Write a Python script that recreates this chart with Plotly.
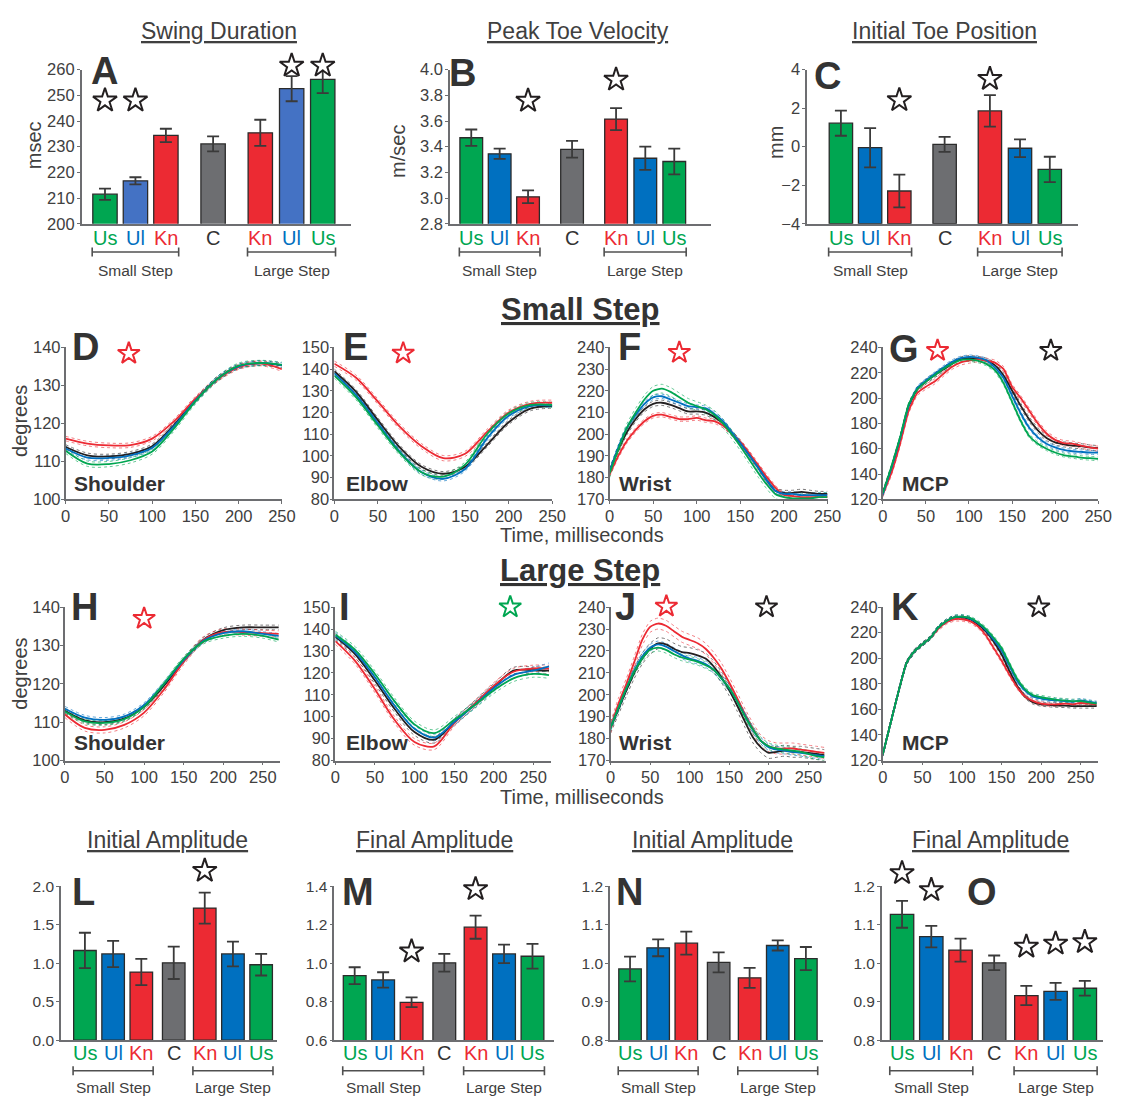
import plotly.graph_objects as go

W, H = 1122, 1105
FONT = "Liberation Sans, Arial, Helvetica, sans-serif"
TXT = "#404040"
AX = "#6D6E71"
GREEN, BLUE, BLUE_A, RED, GRAY, BLACK = "#00A651", "#0070C0", "#4472C4", "#EC2A33", "#6D6E71", "#231F20"

# ---------------- bar-chart data (order: Us, Ul, Kn | C | Kn, Ul, Us) ----------------
conditions = ["Us", "Ul", "Kn", "C", "Kn", "Ul", "Us"]
cond_text_colors = [GREEN, BLUE, RED, "#333333", RED, BLUE, GREEN]
step_groups = ["Small Step", "Large Step"]

swing_duration = [211.5, 216.7, 234.4, 231.1, 235.4, 252.6, 256.2]
swing_duration_se = [2.2, 1.4, 2.6, 2.9, 5.1, 4.9, 5.3]
peak_toe_velocity = [3.47, 3.345, 3.01, 3.38, 3.615, 3.31, 3.285]
peak_toe_velocity_se = [0.064, 0.04, 0.05, 0.065, 0.085, 0.09, 0.10]
initial_toe_position = [1.22, -0.05, -2.3, 0.12, 1.86, -0.08, -1.18]
initial_toe_position_se = [0.65, 1.02, 0.85, 0.39, 0.82, 0.46, 0.66]
initial_amp_L = [1.165, 1.12, 0.885, 1.005, 1.715, 1.12, 0.98]
initial_amp_L_se = [0.23, 0.17, 0.17, 0.21, 0.20, 0.16, 0.14]
final_amp_M = [0.935, 0.913, 0.797, 1.002, 1.187, 1.048, 1.036]
final_amp_M_se = [0.044, 0.04, 0.025, 0.046, 0.06, 0.048, 0.064]
initial_amp_N = [0.985, 1.04, 1.052, 1.002, 0.962, 1.046, 1.012]
initial_amp_N_se = [0.032, 0.022, 0.03, 0.026, 0.026, 0.013, 0.03]
final_amp_O = [1.127, 1.069, 1.034, 1.001, 0.916, 0.927, 0.935]
final_amp_O_se = [0.035, 0.028, 0.03, 0.019, 0.025, 0.022, 0.019]

# ---------------- joint-angle traces (degrees), mean per condition ----------------
t25_small = [0, 25, 50, 75, 100, 125, 150, 175, 200, 225, 250]
t25_large = [0, 25, 50, 75, 100, 125, 150, 175, 200, 225, 250, 270]
t10_small = list(range(0, 251, 10))
t10_large = list(range(0, 271, 10))

# small step
shoulder_s = {
    "C":  [113.8, 111.6, 111.3, 112.0, 114.0, 119.5, 126.0, 131.7, 135.0, 135.8, 135.3],
    "Kn": [116.0, 114.7, 114.2, 114.3, 116.0, 120.5, 126.5, 131.5, 134.8, 135.8, 134.3],
    "Ul": [113.4, 111.0, 110.9, 111.6, 113.6, 119.2, 126.0, 131.7, 135.0, 135.9, 135.3],
    "Us": [112.8, 109.4, 109.3, 110.3, 112.6, 118.6, 125.8, 131.6, 135.2, 135.9, 135.4],
}
elbow_s = {
    "C":  [139.0, 129.5, 116.5, 104.0, 95.0, 91.8, 95.0, 105.0, 115.5, 121.8, 123.0],
    "Kn": [142.5, 136.0, 125.0, 113.5, 104.5, 99.0, 101.0, 111.0, 120.0, 124.0, 124.5],
    "Ul": [138.0, 128.0, 115.0, 102.0, 92.5, 89.5, 94.0, 108.0, 118.5, 123.0, 123.2],
    "Us": [137.0, 127.0, 114.0, 101.5, 92.5, 90.5, 96.0, 110.0, 119.5, 123.5, 123.5],
}
wrist_s = {
    "C":  [183, 193, 201, 207, 211.5, 214, 214.5, 213.5, 212, 210.5, 210.5, 210, 208, 205, 200.5, 196,
           190.5, 185, 179, 174, 173, 173, 173.5, 173, 172.5, 172.5],
    "Kn": [181.5, 190, 197, 202, 206, 208.5, 209, 208, 207, 207, 207.5, 206.5, 206, 204, 200.5, 196.5,
           191.5, 186, 180.5, 175.5, 172, 171.5, 171, 171, 171, 171],
    "Ul": [183, 194, 203, 209, 214, 217, 217.5, 216, 214.5, 213, 212.5, 212, 209.5, 206, 201, 196,
           190.5, 185, 179, 174, 172.5, 172.5, 172, 172, 172, 172],
    "Us": [182, 193, 203, 210, 216, 220, 221, 219.5, 217, 214.5, 213, 211.5, 209, 205, 200, 194.5,
           188.5, 182.5, 177, 172.5, 171, 170.5, 170.5, 170.5, 171, 171],
}
mcp_s = {
    "C":  [125, 145, 168, 194, 207, 213, 218, 222.5, 227, 230.5, 231.5, 231, 229.5, 226, 218, 206,
           194, 183, 174.5, 168.5, 165, 163.5, 162.5, 162, 161, 160.5],
    "Kn": [124, 141, 164, 190, 204, 209, 213, 219, 224.5, 228, 229.5, 230.5, 229.5, 228, 223, 209,
           200, 190, 180, 172, 167, 164.5, 164, 162.5, 161, 160],
    "Ul": [124, 145, 168, 194, 208, 214, 219, 224, 228.5, 231.5, 232.5, 232, 230, 224, 216, 202,
           188, 176.5, 169, 164, 161, 159, 158, 157.5, 157, 157],
    "Us": [125, 146, 169, 195, 207, 213, 218, 223, 227, 230, 230.5, 229.5, 227, 222, 212, 197,
           182, 170, 164, 160, 157, 155, 154, 153, 152.5, 152],
}
# large step
shoulder_l = {
    "C":  [113.0, 110.5, 110.0, 111.0, 114.0, 119.5, 126.0, 131.5, 134.0, 134.7, 134.7, 134.7],
    "Kn": [112.0, 108.5, 108.0, 109.3, 112.5, 118.5, 125.8, 131.5, 133.5, 133.5, 133.2, 133.0],
    "Ul": [113.5, 111.2, 110.6, 111.5, 114.5, 120.0, 126.2, 131.2, 133.2, 133.7, 133.0, 132.5],
    "Us": [112.8, 110.2, 109.8, 110.8, 114.0, 120.0, 126.5, 131.0, 132.5, 133.0, 132.5, 131.5],
}
elbow_l = {
    "C":  [136.5, 128.5, 116.5, 103.5, 93.0, 89.5, 97.5, 105.5, 113.5, 121.0, 121.2, 121.0],
    "Kn": [134.5, 125.5, 112.5, 98.5, 88.5, 86.5, 97.0, 105.5, 114.0, 120.5, 122.0, 122.0],
    "Ul": [137.0, 129.5, 118.0, 105.0, 94.5, 90.5, 97.5, 105.0, 113.0, 119.0, 121.0, 123.0],
    "Us": [137.5, 130.5, 119.5, 107.0, 96.5, 92.5, 98.5, 105.0, 112.0, 117.5, 119.5, 119.0],
}
wrist_l = {
    "C":  [185, 193.5, 202, 210, 216.5, 221, 223.5, 223, 221, 219.5, 219, 218, 216.5, 213, 208, 202,
           195, 187.5, 180.5, 176, 173.5, 174, 174.5, 174, 174, 173.5, 173, 172.5],
    "Kn": [185, 196, 205, 215, 225, 231, 232.5, 231.5, 229, 226.5, 225, 223.5, 221, 217, 212, 205.5,
           198.5, 191, 184.5, 179, 176.5, 175.5, 175.5, 175.5, 175, 174.5, 174, 173.5],
    "Ul": [185, 194, 203, 211, 217.5, 221.5, 223, 222, 220, 218, 216.5, 215.5, 214, 211.5, 207.5, 203,
           197, 190.5, 184, 179, 176, 175, 174.5, 174, 173.5, 173, 172.5, 172],
    "Us": [185, 194, 203, 210.5, 216.5, 220.5, 221.5, 220.5, 218.5, 217, 216, 215, 213.5, 211.5, 207.5, 203,
           197, 190, 184, 179, 176.5, 175.5, 175, 174.5, 174, 173, 172, 171.5],
}
mcp_l = {
    "C":  [125, 150, 174.5, 196.5, 205.5, 211, 216, 224, 229, 232, 232, 230.5, 226.5, 221, 213, 203,
           190, 178, 170, 165.5, 164, 163.5, 163, 163, 162.5, 162.5, 162.5, 162.5],
    "Kn": [125, 150, 174.5, 196.5, 205.5, 211, 216, 223, 228, 230.5, 230.5, 229, 225, 218, 208, 198,
           187, 177, 170, 166.5, 164.5, 164, 164, 164.5, 164, 165, 164.5, 164],
    "Ul": [125, 150, 174.5, 196.5, 205.5, 211, 216, 224, 229, 232, 232.5, 231, 227.5, 222, 214.5, 206,
           194, 182, 174.5, 170, 168.5, 167.5, 167, 166.5, 166, 167, 166, 165],
    "Us": [125, 150, 174.5, 196.5, 205.5, 211, 216, 224, 229, 232, 232.5, 231.5, 228, 223, 216, 208,
           195.5, 183.5, 175.5, 171, 169.5, 168.5, 167.5, 167, 166.5, 166.5, 165.5, 164.5],
}
# standard error of each condition's mean trace (degrees)
se_shoulder_s = {"C": 0.6, "Kn": 0.6, "Ul": 0.6, "Us": 0.7}
se_elbow_s = {"C": 1.0, "Kn": 1.2, "Ul": 1.0, "Us": 1.2}
se_wrist_s = {"C": 1.2, "Kn": 1.0, "Ul": 1.0, "Us": 2.0}
se_mcp_s = {"C": 2.0, "Kn": 2.0, "Ul": 1.5, "Us": 1.5}
se_shoulder_l = {"C": 0.6, "Kn": 0.8, "Ul": 0.6, "Us": 0.6}
se_elbow_l = {"C": 1.5, "Kn": 1.5, "Ul": 1.5, "Us": 1.5}
se_wrist_l = {"C": 2.5, "Kn": 2.5, "Ul": 1.5, "Us": 1.5}
se_mcp_l = {"C": 1.5, "Kn": 1.5, "Ul": 1.5, "Us": 1.5}

# ---------------- figure scaffolding ----------------
fig = go.Figure()
# transparent plot areas so the hidden star layers never cover the panels beneath them
layout = dict(width=W, height=H, margin=dict(l=0, r=0, t=0, b=0), paper_bgcolor="white",
              plot_bgcolor="rgba(0,0,0,0)", showlegend=False, font=dict(family=FONT, color=TXT))
annotations, shapes = [], []
n_axes = [0]


def add_axes(x0, x1, ytop, ybot, xr, yr, xstyle, ystyle):
    n_axes[0] += 1
    s = "" if n_axes[0] == 1 else str(n_axes[0])
    layout["xaxis" + s] = dict(domain=[x0 / W, x1 / W], range=xr, anchor="y" + s, **xstyle)
    layout["yaxis" + s] = dict(domain=[1 - ybot / H, 1 - ytop / H], range=yr, anchor="x" + s, **ystyle)
    return "x" + s, "y" + s


def add_star_axes(x0, x1, ytop, ybot, xr, yr, extra=45):
    """Hidden axes with the same data scale as a panel, extended upward so that
    significance stars sitting above the panel's top tick stay inside the range."""
    per_px = (yr[1] - yr[0]) / (ybot - ytop)
    hidden = dict(visible=False, showgrid=False, zeroline=False, fixedrange=True)
    return add_axes(x0, x1, ytop - extra, ybot, xr, [yr[0], yr[1] + extra * per_px], hidden, hidden)


def text(x, y, s, size, color=TXT, bold=False, xref="paper", xanchor="center", angle=0):
    annotations.append(dict(
        x=x / W if xref == "paper" else x, y=1 - y / H, xref=xref, yref="paper",
        text=f"<b>{s}</b>" if bold else s, showarrow=False, textangle=angle,
        font=dict(size=size, color=color, family=FONT), xanchor=xanchor, yanchor="middle"))


def axis_style(tick_size, **kw):
    st = dict(showline=True, linecolor=AX, linewidth=1.6, showgrid=False, zeroline=False,
              ticks="outside", ticklen=3, tickwidth=1.4, tickcolor=AX,
              tickfont=dict(size=tick_size, color=TXT, family=FONT), fixedrange=True)
    st.update(kw)
    return st


def stars_trace(axes, xs, ys, colors, size):
    xa, ya = axes
    fig.add_trace(go.Scatter(x=xs, y=ys, xaxis=xa, yaxis=ya, mode="markers", hoverinfo="skip",
                             marker=dict(symbol="star-open", size=size, color=colors,
                                         line=dict(width=2, color=colors))))


pos_top = [0, 1, 2, 3.55, 5.1, 6.13, 7.15]
pos_bot = [0, 1, 2, 3.15, 4.25, 5.25, 6.25]


def bar_panel(vals, errs, pos, blue, frame, first_px, unit_px, yr, yticks, yfmt, tick_size,
              label_y, bracket_y, group_y, stars, base=None):
    x0, x1, ytop, ybot = frame
    xr = [(x0 - first_px) / unit_px, (x1 - first_px) / unit_px]
    xa, ya = add_axes(x0, x1, ytop, ybot, xr, yr,
                      axis_style(tick_size, ticks="", showticklabels=False),
                      axis_style(tick_size, tickvals=yticks, tickformat=yfmt, ticklabelstandoff=-1))
    colors = [GREEN, blue, RED, GRAY, RED, blue, GREEN]
    bar = dict(x=pos, width=0.8, xaxis=xa, yaxis=ya, hoverinfo="skip",
               marker=dict(color=colors, line=dict(color="#2B2B2B", width=1.3)),
               error_y=dict(type="data", array=errs, visible=True, color="#3A3A3A",
                            thickness=1.8, width=6))
    if base is None:
        bar["y"] = vals
    else:
        bar["y"] = [v - base for v in vals]
        bar["base"] = base
    fig.add_trace(go.Bar(**bar))
    if stars:
        sa = add_star_axes(x0, x1, ytop, ybot, xr, yr)
        stars_trace(sa, [pos[i] for i, _ in stars], [v for _, v in stars], BLACK, 18)
    for p, lab, c in zip(pos, conditions, cond_text_colors):
        text(p, label_y, lab, 20, color=c, xref=xa)
    # group brackets beneath the condition labels
    for (a, b), name in zip([(0, 2), (4, 6)], step_groups):
        xl, xr_ = pos[a] - 0.42, pos[b] + 0.42
        yb = 1 - bracket_y / H
        cap = 4.5 / H
        shapes.append(dict(type="line", xref=xa, yref="paper", x0=xl, x1=xr_, y0=yb, y1=yb,
                           line=dict(color="#505050", width=1.6)))
        for xe in (xl, xr_):
            shapes.append(dict(type="line", xref=xa, yref="paper", x0=xe, x1=xe, y0=yb - cap,
                               y1=yb + cap, line=dict(color="#505050", width=1.6)))
        text((xl + xr_) / 2, group_y, name, 15.5, xref=xa)
    return xa, ya


ORDER = [("C", BLACK), ("Kn", RED), ("Ul", BLUE), ("Us", GREEN)]


def line_panel(t, curves, ses, frame, xr, yr, yticks, stars, smooth):
    x0, x1, ytop, ybot = frame
    xa, ya = add_axes(x0, x1, ytop, ybot, xr, yr,
                      axis_style(16.5, tickvals=[0, 50, 100, 150, 200, 250], ticklabelstandoff=-2),
                      axis_style(16.5, tickvals=yticks, ticklabelstandoff=-3))
    for key, col in ORDER:
        for sign in (1, -1):
            fig.add_trace(go.Scatter(
                x=t, y=[v + sign * ses[key] for v in curves[key]], xaxis=xa, yaxis=ya,
                mode="lines", hoverinfo="skip", opacity=0.6,
                line=dict(color=col, width=1, dash="dot", shape="spline", smoothing=smooth)))
    for key, col in ORDER:
        fig.add_trace(go.Scatter(
            x=t, y=curves[key], xaxis=xa, yaxis=ya, mode="lines", hoverinfo="skip",
            line=dict(color=col, width=1.8, shape="spline", smoothing=smooth)))
    sa = add_star_axes(x0, x1, ytop, ybot, xr, yr)
    stars_trace(sa, [s[0] for s in stars], [s[1] for s in stars], [s[2] for s in stars], 16.5)
    return xa, ya


# ---------------- top row: A, B, C ----------------
TOP = (61.7, 218.3)
bar_panel(swing_duration, swing_duration_se, pos_top, BLUE_A, (78, 352, *TOP), 101.7, 30.98,
          [200, 260], list(range(200, 261, 10)), "d", 16.5, 233, 247, 266,
          [(0, 248), (1, 248), (5, 261.6), (6, 261.6)])
bar_panel(peak_toe_velocity, peak_toe_velocity_se, pos_top, BLUE, (452.7, 718, *TOP), 474.3, 28.88,
          [2.8, 4.0], [2.8, 3.0, 3.2, 3.4, 3.6, 3.8, 4.0], ".1f", 16.5, 233, 247, 266,
          [(2, 3.758), (4, 3.923)])
bar_panel(initial_toe_position, initial_toe_position_se, pos_top, BLUE, (816, 1091.7, *TOP), 850.3, 29.72,
          [-4, 4], [-4, -2, 0, 2, 4], "d", 16.5, 233, 247, 266,
          [(2, 2.42), (4, 3.52)], base=-4)

for x, title in [(217.5, "Swing Duration"), (583, "Peak Toe Velocity"), (955.7, "Initial Toe Position")]:
    text(x, 22, f"<u>{title}</u>", 23)
for x, y, letter in [(101.7, 63, "A"), (465.7, 65, "B"), (837, 68, "C")]:
    text(x, y, letter, 38, color="#333333", bold=True)
text(29, 139, "msec", 20, angle=-90)
text(399, 145, "m/sec", 20, angle=-90)
text(784.5, 136, "mm", 20, angle=-90)

# ---------------- small step joint angles: D-G ----------------
SROW = (344, 498.5)
line_panel(t25_small, shoulder_s, se_shoulder_s, (61.7, 281.7, *SROW), [0, 250], [100, 140],
           [100, 110, 120, 130, 140], [(73, 138.4, RED)], 0.9)
line_panel(t25_small, elbow_s, se_elbow_s, (335, 556.7, *SROW), [0, 250], [80, 150],
           list(range(80, 151, 10)), [(79, 147.3, RED)], 0.9)
line_panel(t10_small, wrist_s, se_wrist_s, (615, 836.7, *SROW), [0, 250], [170, 240],
           list(range(170, 241, 10)), [(80, 237.6, RED)], 0.6)
line_panel(t10_small, mcp_s, se_mcp_s, (893, 1112, *SROW), [0, 250], [120, 240],
           list(range(120, 241, 20)), [(63.5, 237.4, RED), (195, 237.4, BLACK)], 0.5)

# ---------------- large step joint angles: H-K ----------------
LROW = (608, 764)
line_panel(t25_large, shoulder_l, se_shoulder_l, (61, 280, *LROW), [0, 272], [100, 140],
           [100, 110, 120, 130, 140], [(100, 137, RED)], 0.9)
line_panel(t25_large, elbow_l, se_elbow_l, (336, 555, *LROW), [0, 272], [80, 150],
           list(range(80, 151, 10)), [(221, 150, GREEN)], 0.9)
line_panel(t10_large, wrist_l, se_wrist_l, (616, 835, *LROW), [0, 272], [170, 240],
           list(range(170, 241, 10)), [(70.5, 240.3, RED), (197, 240, BLACK)], 0.6)
line_panel(t10_large, mcp_l, se_mcp_l, (893, 1112, *LROW), [0, 272], [120, 240],
           list(range(120, 241, 20)), [(197, 240, BLACK)], 0.5)

for x, y, letter in [(82, 344, "D"), (357, 344, "E"), (635, 344, "F"), (914, 346, "G"),
                     (81, 608, "H"), (345, 608, "I"), (631, 608, "J"), (916, 608, "K")]:
    text(x, y, letter, 38, color="#333333", bold=True)
for yy in (482, 746):
    for x, name in [(68, "Shoulder"), (345, "Elbow"), (623, "Wrist"), (910, "MCP")]:
        text(x, yy, name, 21, color="#333333", bold=True, xanchor="left")
text(15, 419, "degrees", 20, angle=-90)
text(15, 676, "degrees", 20, angle=-90)
text(587, 535, "Time, milliseconds", 20)
text(587, 801, "Time, milliseconds", 20)
text(585, 305, "<u>Small Step</u>", 31, color="#333333", bold=True)
text(585, 571, "<u>Large Step</u>", 31, color="#333333", bold=True)

# ---------------- bottom row: L, M, N, O ----------------
BOT = (891.7, 1048.3)
bar_panel(initial_amp_L, initial_amp_L_se, pos_bot, BLUE, (57, 277, *BOT), 81.3, 28.68,
          [0, 2.0], [0, 0.5, 1.0, 1.5, 2.0], ".1f", 15.5, 1061.7, 1079.3, 1096.7,
          [(4, 2.2)])
bar_panel(final_amp_M, final_amp_M_se, pos_bot, BLUE, (335, 558, *BOT), 355.7, 28.94,
          [0.6, 1.4], [0.6, 0.8, 1.0, 1.2, 1.4], ".1f", 15.5, 1061.7, 1079.3, 1096.7,
          [(2, 1.061), (4, 1.385)])
bar_panel(initial_amp_N, initial_amp_N_se, pos_bot, BLUE, (615.5, 832, *BOT), 635.8, 28.62,
          [0.8, 1.2], [0.8, 0.9, 1.0, 1.1, 1.2], ".1f", 15.5, 1061.7, 1079.3, 1096.7, [])
bar_panel(final_amp_O, final_amp_O_se, pos_bot, BLUE, (892, 1117, *BOT), 912.5, 29.75,
          [0.8, 1.2], [0.8, 0.9, 1.0, 1.1, 1.2], ".1f", 15.5, 1061.7, 1079.3, 1096.7,
          [(0, 1.234), (1, 1.19), (4, 1.043), (5, 1.051), (6, 1.055)])

for x, title in [(165.5, "Initial Amplitude"), (436.6, "Final Amplitude"),
                 (720, "Initial Amplitude"), (1002, "Final Amplitude")]:
    text(x, 845, f"<u>{title}</u>", 23)
for x, letter in [(79.5, "L"), (359, "M"), (635, "N"), (993.7, "O")]:
    text(x, 897.5, letter, 38, color="#333333", bold=True)

layout["annotations"] = annotations
layout["shapes"] = shapes
fig.update_layout(**layout)
fig.write_html("out.html")
